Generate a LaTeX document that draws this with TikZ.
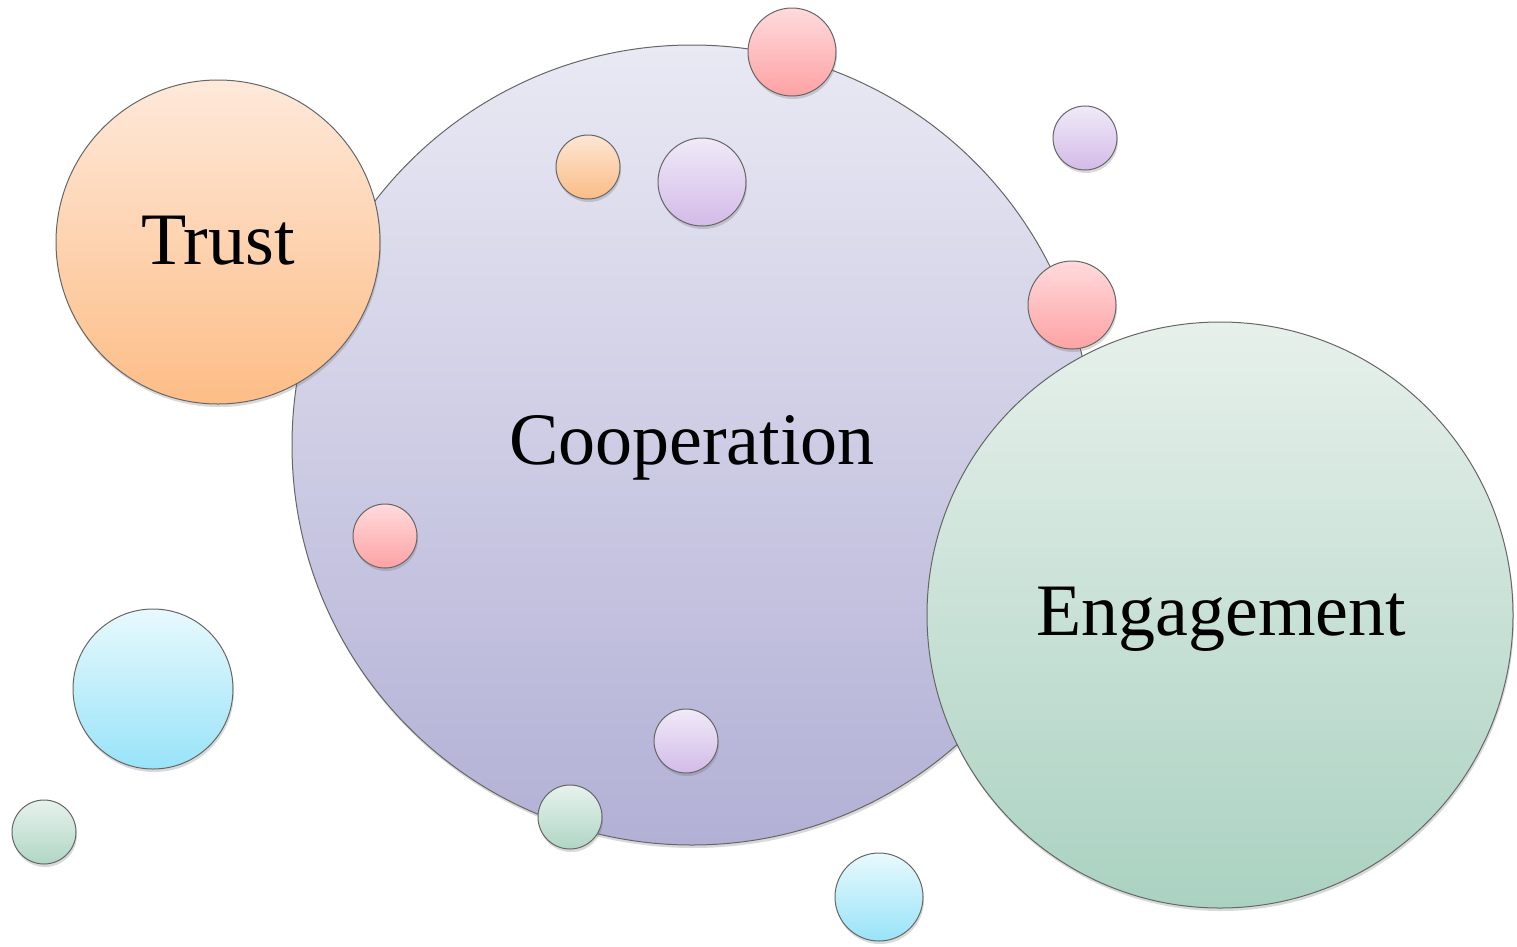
\documentclass[tikz,border=0pt]{standalone}
\usepackage{fontspec}
\setmainfont{Liberation Serif}
\usetikzlibrary{shadows}
\definecolor{coopT}{HTML}{E9E9F4}
\definecolor{coopB}{HTML}{B2B0D5}
\definecolor{trustT}{HTML}{FEE9DA}
\definecolor{trustB}{HTML}{FDBD86}
\definecolor{engT}{HTML}{E7F0EB}
\definecolor{engB}{HTML}{AAD2C1}
\definecolor{pinkT}{HTML}{FFDADC}
\definecolor{pinkB}{HTML}{FEA2A4}
\definecolor{purT}{HTML}{F0EAF8}
\definecolor{purB}{HTML}{D3BBE8}
\definecolor{oraT}{HTML}{FDE6D4}
\definecolor{oraB}{HTML}{FBBC86}
\definecolor{cyaT}{HTML}{E8F9FD}
\definecolor{cyaB}{HTML}{98E3F9}
\definecolor{grnT}{HTML}{E7F2ED}
\definecolor{grnB}{HTML}{B0D6C4}
\definecolor{rim}{HTML}{666666}
\tikzset{
  bub/.style={circle, draw=rim, line width=1pt, inner sep=0pt, outer sep=0pt,
    minimum size=2*#1, drop shadow={shadow xshift=1pt, shadow yshift=-3pt, opacity=0.25, fill=black!60}},
  lbl/.style={font=\fontsize{74}{82}\selectfont, text=black},
  pinkb/.style={bub=#1, top color=pinkT, bottom color=pinkB},
  purb/.style={bub=#1, top color=purT, bottom color=purB},
  orab/.style={bub=#1, top color=oraT, bottom color=oraB},
  cyab/.style={bub=#1, top color=cyaT, bottom color=cyaB},
  grnb/.style={bub=#1, top color=grnT, bottom color=grnB}
}
\begin{document}
\begin{tikzpicture}[x=1pt,y=-1pt]
\useasboundingbox (0,0) rectangle (1517,946);
\node[bub=400pt, top color=coopT, bottom color=coopB] (coop) at (692,445) {};
\node[lbl] (coopt) at (692,448) {Cooperation};
\node[orab=32pt] (o1) at (588,167) {};
\node[purb=44pt] (p1) at (702,182) {};
\node[pinkb=32pt] (k1) at (385,536) {};
\node[purb=32pt] (p2) at (686,741) {};
\node[grnb=32pt] (g1) at (570,817) {};
\node[pinkb=44pt] (k2) at (792,52) {};
\node[purb=32pt] (p3) at (1085,138) {};
\node[pinkb=44pt] (k3) at (1072,305) {};
\node[cyab=80pt] (c1) at (153,689) {};
\node[grnb=32pt] (g2) at (44,832) {};
\node[cyab=44pt] (c2) at (879,897) {};
\node[bub=162pt, top color=trustT, bottom color=trustB] (trust) at (218,242) {};
\node[lbl] (trustt) at (218,241) {Trust};
\node[bub=293pt, top color=engT, bottom color=engB] (eng) at (1220,615) {};
\node[lbl] (engt) at (1221,619) {Engagement};
\end{tikzpicture}
\end{document}
